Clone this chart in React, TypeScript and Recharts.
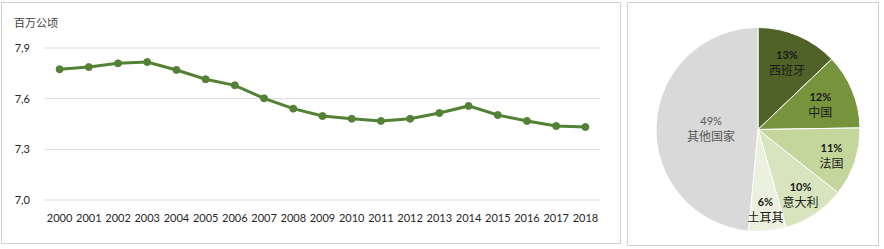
import React from 'react';
import { LineChart, Line, XAxis, YAxis, CartesianGrid, PieChart, Pie, Cell } from 'recharts';

const years = ['2000','2001','2002','2003','2004','2005','2006','2007','2008','2009','2010','2011','2012','2013','2014','2015','2016','2017','2018'];
const area = [7.774,7.787,7.809,7.817,7.770,7.715,7.679,7.602,7.541,7.497,7.481,7.468,7.481,7.515,7.557,7.503,7.468,7.438,7.432];
const yTicks = [7.0, 7.3, 7.6, 7.9];

const countries = ['西班牙','中国','法国','意大利','土耳其','其他国家'];
const shares = [13, 12, 11, 10, 6, 49];
const sliceColors = ['#4F6228', '#77933C', '#C3D69B', '#D7E4BD', '#EBF1DE', '#D9D9D9'];

const lineData = years.map((y, i) => ({ year: y, value: area[i] }));
const pieData = countries.map((c, i) => ({ name: c, value: shares[i] }));

const LABEL_R = [0.72, 0.66, 0.76, 0.75, 0.78, 0.46];
const RAD = Math.PI / 180;

const renderPieLabel = (props: any) => {
  const { cx, cy, midAngle, outerRadius, index, name, value } = props;
  const r = outerRadius * LABEL_R[index];
  const x = cx + r * Math.cos(-midAngle * RAD);
  const y = cy + r * Math.sin(-midAngle * RAD);
  const isOther = index === 5;
  return (
    <g>
      <text x={x} y={y - 7} textAnchor="middle" dominantBaseline="central"
        fontFamily="Lato, sans-serif" fontSize={11} fontWeight={isOther ? 400 : 700}
        fill={isOther ? '#595959' : '#1a1a1a'}>
        {value + '%'}
      </text>
      <text x={x} y={y + 8} textAnchor="middle" dominantBaseline="central"
        fontFamily="'Noto Sans CJK SC', sans-serif" fontSize={12}
        fill={isOther ? '#595959' : '#1a1a1a'}>
        {name}
      </text>
    </g>
  );
};

export default function App() {
  return (
    <div style={{ position: 'absolute', left: 0, top: 0, width: 884, height: 249, background: '#fff' }}>
      <div style={{ position: 'absolute', left: 1, top: 2, width: 620, height: 242, border: '1px solid #D0D0D0', boxSizing: 'border-box' }} />
      <div style={{ position: 'absolute', left: 627, top: 2, width: 252, height: 244, border: '1px solid #D0D0D0', boxSizing: 'border-box' }} />
      <div style={{ position: 'absolute', left: 14, top: 14, fontFamily: "'Noto Sans CJK SC', sans-serif", fontSize: 11, color: '#404040', lineHeight: '16px' }}>百万公顷</div>
      <div style={{ position: 'absolute', left: 0, top: 0 }}>
        <LineChart width={620} height={249} data={lineData} margin={{ top: 48, right: 20, left: 0, bottom: 19 }}>
          <CartesianGrid vertical={false} stroke="#D9D9D9" strokeWidth={1} />
          <XAxis dataKey="year" axisLine={false} tickLine={false} tickSize={0} tickMargin={14} height={30}
            padding={{ left: 14.6, right: 14.6 }}
            interval={0} tick={{ fontFamily: 'Lato, sans-serif', fontSize: 11, fill: '#262626' }} />
          <YAxis domain={[7.0, 7.9]} ticks={yTicks} axisLine={false} tickLine={false} tickSize={0} tickMargin={15}
            width={45} tickFormatter={(v: number) => v.toFixed(1).replace('.', ',')}
            tick={{ fontFamily: 'Lato, sans-serif', fontSize: 11, fill: '#262626' }} />
          <Line type="linear" dataKey="value" stroke="#538135" strokeWidth={3}
            dot={{ r: 3.5, fill: '#538135', stroke: '#538135', strokeWidth: 1 }} isAnimationActive={false} />
        </LineChart>
      </div>
      <div style={{ position: 'absolute', left: 627, top: 2 }}>
        <PieChart width={252} height={244}>
          <Pie data={pieData} dataKey="value" nameKey="name" cx={126} cy={122.5} outerRadius={102}
            startAngle={90} endAngle={-270} stroke="#ffffff" strokeWidth={1}
            label={renderPieLabel} labelLine={false} isAnimationActive={false}>
            {pieData.map((d, i) => <Cell key={d.name} fill={sliceColors[i]} />)}
          </Pie>
        </PieChart>
      </div>
    </div>
  );
}
